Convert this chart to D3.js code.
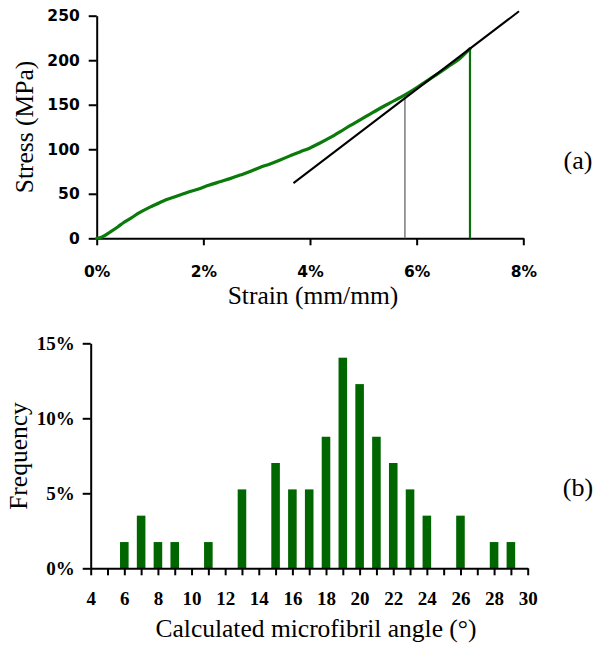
<!DOCTYPE html>
<html><head><meta charset="utf-8">
<script src="https://cdn.jsdelivr.net/npm/d3@7"></script>
<style>html,body{margin:0;padding:0;background:#fff;}svg{display:block;}</style>
</head><body>
<svg id="c" width="597" height="646"></svg>
<script>
// ---- Data: panel (a) stress-strain curve ----
const strain = [0,0.1,0.25,0.4,0.5,0.65,0.81,1.0,1.125,1.25,1.44,1.6,1.75,1.94,2.1,2.31,2.5,2.69,2.9,3.06,3.25,3.44,3.6,3.81,4.0,4.17,4.375,4.56,4.75,4.94,5.125,5.3,5.5,5.78,6.06,6.25,6.44,6.62,6.81,7.0];
const stress = [0,1.5,7,13,17.5,23,29,35,38.5,42,46,49.5,52.5,56,59.5,63.5,67,71,75.5,79.5,83.5,88,92,97,101.5,106.5,113,119.5,126.5,133,139.5,145.5,152,161,171.5,179,186.5,194,202,213];
const tangentStrain = [3.69, 7.92];
const tangentStress = [62, 255];
const yieldStrain = 5.78, yieldStress = 158;
const failStrain = 7.0, failStress = 213;
const strainTicks = [0,2,4,6,8];
const stressTicks = [0,50,100,150,200,250];

// ---- Data: panel (b) microfibril angle histogram ----
const angles = [6,7,8,9,11,13,15,16,17,18,19,20,21,22,23,24,26,28,29];
const freq   = [1.75,3.51,1.75,1.75,1.75,5.26,7.02,5.26,5.26,8.77,14.04,12.28,8.77,7.02,5.26,3.51,3.51,1.75,1.75];
const angleTicks = d3.range(4,31,1);
const angleLabels = d3.range(4,31,2);
const freqTicks = [0,5,10,15];

const svg = d3.select("#c");
const serif = "'Liberation Serif','Times New Roman',serif";

// ===== Panel (a) =====
const xa = d3.scaleLinear().domain([0,8]).range([96.7,523.3]);
const ya = d3.scaleLinear().domain([0,250]).range([238.3,15.7]);

const gxa = svg.append("g").attr("transform",`translate(0,${ya(0)})`)
  .call(d3.axisBottom(xa).tickValues(strainTicks).tickFormat(d=>d+"%").tickSize(7).tickPadding(21).tickSizeOuter(0));
const gya = svg.append("g").attr("transform",`translate(${xa(0)},0)`)
  .call(d3.axisLeft(ya).tickValues(stressTicks).tickSize(8).tickPadding(9).tickSizeOuter(0));
[gxa,gya].forEach(g=>{
  g.selectAll("path.domain").attr("stroke","#000").attr("stroke-width",2);
  g.selectAll(".tick line").attr("stroke","#000").attr("stroke-width",2);
  g.selectAll("text").attr("fill","#000").style("font-family","'DejaVu Sans',sans-serif")
    .style("font-weight","bold").style("font-size","15.5px");
});

// vertical lines
svg.append("line").attr("x1",xa(yieldStrain)).attr("x2",xa(yieldStrain))
  .attr("y1",ya(0)).attr("y2",ya(yieldStress)).attr("stroke","#7a7a7a").attr("stroke-width",1.5);
svg.append("line").attr("x1",xa(failStrain)).attr("x2",xa(failStrain))
  .attr("y1",ya(0)).attr("y2",ya(failStress)).attr("stroke","#0a700a").attr("stroke-width",2.2);

// curve
const pts = strain.map((s,i)=>[s,stress[i]]);
svg.append("path").datum(pts)
  .attr("d",d3.line().x(d=>xa(d[0])).y(d=>ya(d[1])).curve(d3.curveMonotoneX))
  .attr("fill","none").attr("stroke","#0a7a0a").attr("stroke-width",3.2).attr("stroke-linecap","round");

// tangent line
svg.append("line").attr("x1",xa(tangentStrain[0])).attr("y1",ya(tangentStress[0]))
  .attr("x2",xa(tangentStrain[1])).attr("y2",ya(tangentStress[1]))
  .attr("stroke","#000").attr("stroke-width",2);

svg.append("text").attr("x",313).attr("y",304).attr("text-anchor","middle")
  .style("font-family",serif).style("font-size","25.5px").text("Strain (mm/mm)");
svg.append("text").attr("transform",`translate(33,127) rotate(-90)`).attr("text-anchor","middle")
  .style("font-family",serif).style("font-size","25.5px").text("Stress (MPa)");
svg.append("text").attr("x",578).attr("y",169).attr("text-anchor","middle")
  .style("font-family",serif).style("font-size","26px").text("(a)");

// ===== Panel (b) =====
const xb = d3.scaleLinear().domain([4,30]).range([90.7,527.7]);
const yb = d3.scaleLinear().domain([0,15]).range([568.3,343.3]);
const bw = (xb(1)-xb(0))*0.51;

svg.append("g").selectAll("rect").data(angles).join("rect")
  .attr("x",(d)=>xb(d)-bw/2).attr("width",bw)
  .attr("y",(d,i)=>yb(freq[i])).attr("height",(d,i)=>yb(0)-yb(freq[i]))
  .attr("fill","#006600");

const gxb = svg.append("g").attr("transform",`translate(0,${yb(0)})`)
  .call(d3.axisBottom(xb).tickValues(angleTicks).tickFormat(d=>angleLabels.includes(d)?d:"").tickSize(7).tickPadding(16).tickSizeOuter(0));
const gyb = svg.append("g").attr("transform",`translate(${xb(4)},0)`)
  .call(d3.axisLeft(yb).tickValues(freqTicks).tickFormat(d=>d+"%").tickSize(8).tickPadding(8).tickSizeOuter(0));
[gxb,gyb].forEach(g=>{
  g.selectAll("path.domain").attr("stroke","#000").attr("stroke-width",2);
  g.selectAll(".tick line").attr("stroke","#000").attr("stroke-width",2);
  g.selectAll("text").attr("fill","#000").style("font-family",serif)
    .style("font-weight","bold").style("font-size","19px");
});

svg.append("text").attr("x",316).attr("y",637).attr("text-anchor","middle")
  .style("font-family",serif).style("font-size","25.5px").text("Calculated microfibril angle (°)");
svg.append("text").attr("transform",`translate(27,456) rotate(-90)`).attr("text-anchor","middle")
  .style("font-family",serif).style("font-size","25.5px").text("Frequency");
svg.append("text").attr("x",578).attr("y",496).attr("text-anchor","middle")
  .style("font-family",serif).style("font-size","26px").text("(b)");
</script>
</body></html>
